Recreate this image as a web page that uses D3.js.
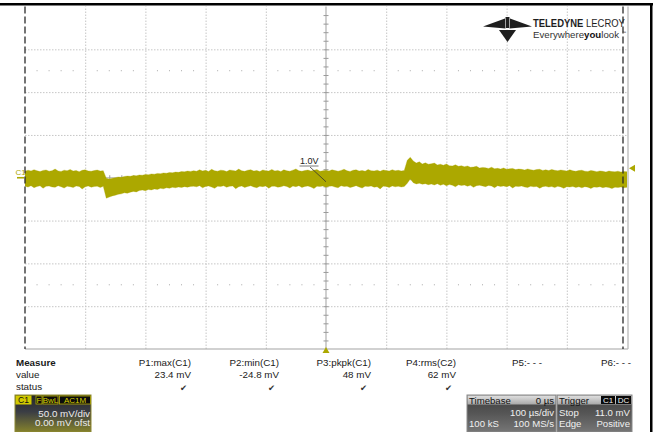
<!DOCTYPE html>
<html>
<head>
<meta charset="utf-8">
<script src="https://cdn.jsdelivr.net/npm/d3@7"></script>
<style>
  html, body { margin: 0; padding: 0; background: #fff; }
  svg { display: block; font-family: "Liberation Sans", Arial, sans-serif; }
</style>
</head>
<body>
<svg id="scope" width="654" height="432"></svg>
<script>
// one envelope point every 5 µs, from -500 µs to +500 µs
const timeStartUs = -500;
const timeStepUs = 5;

// upper edge of the C1 noise band (mV)
const upperMv = [
  7.5, 8.8, 7.9, 9.4, 8.1, 7.2, 8.6, 9.1, 7.7, 8.3, 10.2, 8.0, 7.4, 8.9, 8.2, 9.6, 7.8, 8.5, 7.1, 8.7,
  9.3, 8.0, 7.6, 8.4, 9.0, 7.9, 8.3,
  // dip at about -367 µs and the slow recovery
  -0.5, -1.5, -0.6, 0.1, 0.9, 0.5, 1.5, 2.0, 1.7, 2.6, 2.3, 3.2, 3.0, 3.9, 3.6, 4.5, 4.2, 5.1, 4.8, 5.6,
  5.3, 6.2, 5.8, 6.6, 6.3, 7.2, 6.9, 7.8, 7.4,
  // flat part
  8.3, 7.6, 9.2, 8.0, 8.7, 7.4, 9.8, 8.1, 7.7, 8.9, 8.4, 7.3, 9.0, 8.6, 7.9, 10.1, 8.2, 7.5, 8.8, 9.4,
  7.8, 8.5, 7.2, 9.1, 8.3, 7.9, 9.7, 8.0, 8.6, 7.4, 9.2, 8.1, 7.7, 8.9, 10.3, 8.2, 7.6, 8.4, 9.0, 7.8,
  8.7, 9.5, 7.5, 8.2, 8.9, 7.9, 9.3, 8.4, 7.7, 8.6, 10.0, 8.1, 7.4, 8.8, 9.2, 7.9, 8.5, 7.6, 9.6, 8.3,
  8.0, 8.9, 7.5, 9.1, 8.4, 7.8, 9.4, 8.2, 8.7, 7.9, 8.6,
  // step at about +138 µs and decay
  20.5, 23.8, 19.5, 17.2, 18.6, 16.1, 17.4, 15.9, 16.3, 17.1, 15.0, 15.8, 14.6, 16.2, 14.1, 13.8, 15.1, 13.4, 14.0, 12.9,
  13.8, 12.2, 12.6, 13.4, 11.3, 12.1, 11.7, 10.9, 12.3, 10.6, 11.0, 10.2, 11.4, 9.9, 10.4, 10.9, 9.5, 10.2, 9.8, 9.1,
  10.3, 9.4, 8.8, 9.6, 9.9, 8.6, 9.2, 8.4, 9.7, 8.7, 8.2, 9.0, 8.5, 7.9, 9.3, 8.1, 7.6, 8.4, 8.8, 7.7,
  7.4, 8.6, 7.9, 7.1, 8.0, 7.5, 6.8, 7.9, 7.2, 6.9, 7.7, 6.6, 7.3, 7.0
];

// lower edge of the C1 noise band (mV)
const lowerMv = [
  -9.8, -10.9, -9.2, -11.6, -10.1, -9.4, -12.3, -10.0, -9.6, -10.8, -11.2, -9.3, -10.5, -12.0, -9.9, -10.4, -11.5, -9.7, -10.2, -13.1,
  -10.6, -9.5, -11.0, -10.3, -9.8, -11.4, -10.0,
  -23.8, -22.6, -21.2, -20.3, -19.4, -18.8, -17.6, -18.1, -16.8, -16.0, -16.5, -15.0, -14.4, -15.1, -13.8, -14.2, -13.1, -13.6, -12.4, -12.9,
  -11.8, -12.2, -11.2, -11.7, -10.8, -11.3, -10.4, -11.0, -10.1,
  -9.9, -10.6, -9.2, -11.8, -10.1, -9.5, -10.9, -12.4, -9.8, -10.3, -9.4, -11.1, -10.0, -9.6, -12.9, -10.5, -9.7, -11.3, -10.2, -9.3,
  -10.8, -11.6, -9.9, -10.4, -9.5, -12.2, -10.0, -9.8, -11.0, -10.6, -9.4, -10.2, -11.9, -9.7, -10.5, -9.2, -11.4, -10.1, -9.6, -10.8,
  -12.6, -9.9, -10.3, -9.5, -11.2, -10.0, -9.7, -10.9, -11.7, -9.4, -10.2, -9.8, -11.5, -10.4, -9.3, -10.7, -12.1, -9.9, -10.3, -9.6,
  -11.0, -10.5, -13.0, -9.8, -10.1, -11.3, -9.5, -10.6, -9.9, -10.8, -10.2,
  -6.5, -1.5, -5.8, -7.2, -6.4, -7.6, -6.9, -8.1, -7.3, -8.4, -7.0, -8.8, -7.6, -9.2, -8.0, -8.7, -10.5, -8.3, -9.1, -8.6,
  -9.8, -8.9, -11.2, -9.3, -8.8, -9.6, -10.4, -9.0, -9.7, -11.6, -9.4, -10.1, -9.6, -10.5, -9.3, -12.0, -9.9, -10.3, -9.7, -10.8,
  -11.4, -9.8, -10.6, -10.1, -12.3, -10.4, -9.9, -10.9, -10.3, -11.5, -10.0, -10.7, -12.4, -10.5, -10.9, -10.2, -11.3, -10.6, -11.8, -10.4,
  -11.0, -12.5, -10.8, -11.2, -10.5, -11.6, -10.9, -11.4, -12.7, -11.0, -11.5, -10.8, -11.7, -11.2
];

const timeGridUs = [-400, -300, -200, -100, 100, 200, 300, 400];
const voltGridMv = [-150, -100, -50, 50, 100, 150];
const dotRowsMv = [125, -125];
const triggerLevelMv = 11.0;
const offsetMv = 0;

const measureHead = 'Measure';
const measureLabels = ['P1:max(C1)', 'P2:min(C1)', 'P3:pkpk(C1)', 'P4:rms(C2)', 'P5:- - -', 'P6:- - -'];
const measureValues = ['23.4 mV', '-24.8 mV', '48 mV', '62 mV', '', ''];
const measureOk = [true, true, true, true, false, false];

const traceColor = '#aca800';

const svg = d3.select('#scope');

// screen geometry (10 x 8 divisions)
const X0 = 25, X1 = 627, Y0 = 6.5, Y1 = 349;
const x = d3.scaleLinear().domain([-500, 500]).range([X0, X1]);
const y = d3.scaleLinear().domain([-200, 200]).range([Y1, Y0]);

svg.append('defs').append('clipPath').attr('id', 'screen')
  .append('rect').attr('x', X0).attr('y', Y0).attr('width', X1 - X0).attr('height', Y1 - Y0);

// dotted grid
svg.append('g')
  .attr('transform', `translate(0,${Y1})`)
  .call(d3.axisBottom(x).tickValues(timeGridUs).tickSize(-(Y1 - Y0)).tickFormat(''))
  .call(g => {
    g.select('.domain').remove();
    g.selectAll('line').attr('stroke', '#c6c6c6').attr('stroke-dasharray', '1.5,1.5');
  });

svg.append('g')
  .attr('transform', `translate(${X0},0)`)
  .call(d3.axisLeft(y).tickValues(voltGridMv).tickSize(-(X1 - X0)).tickFormat(''))
  .call(g => {
    g.select('.domain').remove();
    g.selectAll('line').attr('stroke', '#c6c6c6').attr('stroke-dasharray', '1.5,1.5');
  });

// dots at +-2.5 div
const dotTimes = d3.range(-480, 500, 20).filter(t => t % 100 !== 0);
dotRowsMv.forEach(mv => {
  svg.append('g').selectAll('rect')
    .data(dotTimes)
    .enter()
    .append('rect')
    .attr('x', d => x(d) - 0.5)
    .attr('y', y(mv) - 0.5)
    .attr('width', 1)
    .attr('height', 1)
    .attr('fill', '#a8a8a8');
});

// centre cross with minor ticks
const axisColor = '#b0b0b0';
svg.append('line')
  .attr('x1', x(0)).attr('x2', x(0)).attr('y1', Y0).attr('y2', Y1)
  .attr('stroke', axisColor).attr('stroke-width', 1.2);
svg.append('line')
  .attr('x1', X0).attr('x2', X1).attr('y1', y(0)).attr('y2', y(0))
  .attr('stroke', axisColor).attr('stroke-width', 1.2);

const vTicks = d3.range(-190, 200, 10).filter(v => v !== 0);
[d3.axisLeft(y), d3.axisRight(y)].forEach(ax => {
  svg.append('g')
    .attr('transform', `translate(${x(0)},0)`)
    .call(ax.tickValues(vTicks).tickSize(2.5).tickFormat(''))
    .call(g => {
      g.select('.domain').remove();
      g.selectAll('line').attr('stroke', '#9a9a9a');
    });
});
const hTicks = d3.range(-480, 500, 20).filter(t => t !== 0);
[d3.axisTop(x), d3.axisBottom(x)].forEach(ax => {
  svg.append('g')
    .attr('transform', `translate(0,${y(0)})`)
    .call(ax.tickValues(hTicks).tickSize(2.5).tickFormat(''))
    .call(g => {
      g.select('.domain').remove();
      g.selectAll('line').attr('stroke', '#9a9a9a');
    });
});

// trace envelope
const band = upperMv.map((u, i) => ({ t: timeStartUs + i * timeStepUs, hi: u, lo: lowerMv[i] }));
const area = d3.area()
  .x(d => x(d.t))
  .y0(d => y(d.lo))
  .y1(d => y(d.hi));

svg.append('path')
  .datum(band)
  .attr('clip-path', 'url(#screen)')
  .attr('d', area)
  .attr('fill', traceColor)
  .attr('stroke', traceColor)
  .attr('stroke-width', 0.3);

// screen frame
svg.append('line').attr('x1', X0).attr('x2', X1 + 1).attr('y1', Y1).attr('y2', Y1)
  .attr('stroke', '#a4a4a4').attr('stroke-width', 1.2);
svg.append('line').attr('x1', X1 + 1).attr('x2', X1 + 1).attr('y1', Y0).attr('y2', Y1)
  .attr('stroke', '#b4b4b4').attr('stroke-width', 1.2);
svg.append('line').attr('x1', X0).attr('x2', X0).attr('y1', Y0).attr('y2', Y1)
  .attr('stroke', '#2a2a2a').attr('stroke-width', 1.3).attr('stroke-dasharray', '7,3');
svg.append('line').attr('x1', X1 - 4).attr('x2', X1 - 4).attr('y1', Y0).attr('y2', Y1)
  .attr('stroke', '#2a2a2a').attr('stroke-width', 1.3).attr('stroke-dasharray', '7,3');

// window border
svg.append('rect').attr('x', 0).attr('y', 3).attr('width', 653).attr('height', 2.5).attr('fill', '#000');
svg.append('rect').attr('x', 650).attr('y', 3).attr('width', 2.5).attr('height', 429).attr('fill', '#000');

// offset label with pointer
svg.append('text').attr('x', 300).attr('y', 164).attr('font-size', 9).attr('fill', '#222').text('1.0V');
svg.append('line').attr('x1', 299.5).attr('x2', 318.5).attr('y1', 166).attr('y2', 166)
  .attr('stroke', '#7a7a7a').attr('stroke-width', 1);
svg.append('line').attr('x1', 310).attr('x2', x(0)).attr('y1', 167).attr('y2', y(offsetMv) + 4)
  .attr('stroke', '#333').attr('stroke-width', 0.8);

// channel marker
svg.append('text').attr('x', 15.5).attr('y', 175).attr('font-size', 8).attr('fill', traceColor).text('C1');
svg.append('line').attr('x1', 17).attr('x2', 24).attr('y1', y(offsetMv)).attr('y2', y(offsetMv))
  .attr('stroke', traceColor).attr('stroke-width', 1.6);

// trigger level and trigger position markers
const ty = y(triggerLevelMv);
svg.append('path').attr('d', `M629,${ty} L635,${ty - 3.5} L635,${ty + 3.5} Z`).attr('fill', traceColor);
svg.append('path').attr('d', `M${x(0)},${Y1 - 2} L${x(0) + 3.5},${Y1 + 4} L${x(0) - 3.5},${Y1 + 4} Z`).attr('fill', traceColor);

// logo
const logo = svg.append('g').attr('fill', '#1e1e1e');
logo.append('path').attr('d', 'M483,26.5 L505,18.5 L505.5,28.5 Z');
logo.append('path').attr('d', 'M532,26.5 L510,18.5 L509.5,28.5 Z');
logo.append('path').attr('d', 'M499,30 L516,30 L507.5,42 Z');
logo.append('path').attr('d', 'M505.5,17 L509.5,17 L509,28 L506,28 Z');
const brand = logo.append('g').attr('transform', 'translate(533,27) scale(0.86,1)')
  .append('text').attr('font-size', 11);
brand.append('tspan').attr('font-weight', 'bold').text('TELEDYNE');
brand.append('tspan').text(' LECROY');
const tag = logo.append('g').attr('transform', 'translate(533,38.2) scale(1.02,1)')
  .append('text').attr('font-size', 9.5).attr('fill', '#333');
tag.append('tspan').text('Everywhere');
tag.append('tspan').attr('font-weight', 'bold').attr('fill', '#111').text('you');
tag.append('tspan').text('look');
logo.append('text').attr('x', 622).attr('y', 33.8).attr('font-size', 4).attr('fill', '#333').text('™');

// measurement table
const colRight = [191, 279, 371, 456, 542, 631];
const table = svg.append('g').attr('font-size', 9.8).attr('fill', '#1a1a1a');
table.append('text').attr('x', 16).attr('y', 366).attr('font-weight', 'bold').text(measureHead);
table.append('text').attr('x', 16).attr('y', 378).text('value');
table.append('text').attr('x', 16).attr('y', 390).text('status');
table.selectAll('.lbl').data(measureLabels).enter().append('text')
  .attr('x', (d, i) => colRight[i]).attr('y', 366).attr('text-anchor', 'end').text(d => d);
table.selectAll('.val').data(measureValues).enter().append('text')
  .attr('x', (d, i) => colRight[i]).attr('y', 378).attr('text-anchor', 'end').text(d => d);
table.selectAll('.ok').data(measureOk).enter().append('text')
  .attr('x', (d, i) => colRight[i] - 4).attr('y', 391).attr('text-anchor', 'end')
  .attr('font-family', 'DejaVu Sans').attr('font-size', 8.5).attr('fill', '#333')
  .text(d => d ? '✔' : '');

// descriptor boxes
const defs = svg.select('defs');
function grad(id, stops) {
  const g = defs.append('linearGradient').attr('id', id).attr('x1', 0).attr('y1', 0).attr('x2', 0).attr('y2', 1);
  stops.forEach(s => g.append('stop').attr('offset', s[0]).attr('stop-color', s[1]));
}
grad('chGrad', [[0, '#262626'], [0.45, '#3a3d44'], [1, '#85822c']]);
grad('tbGrad', [[0, '#3e3e3e'], [0.5, '#565656'], [1, '#767676']]);
grad('hdGrad', [[0, '#e0e0e0'], [1, '#a8a8a8']]);

// C1 descriptor
const ch = svg.append('g');
ch.append('rect').attr('x', 15).attr('y', 395).attr('width', 76).attr('height', 37)
  .attr('fill', 'url(#chGrad)').attr('stroke', '#8c8832').attr('stroke-width', 1);
ch.append('rect').attr('x', 15.5).attr('y', 395.5).attr('width', 16).attr('height', 9).attr('fill', '#d2ca00');
ch.append('text').attr('x', 23.5).attr('y', 403).attr('text-anchor', 'middle').attr('font-size', 8.5).attr('fill', '#111').text('C1');
[['F', 36, 6], ['BwL', 43, 15], ['AC1M', 59.5, 31]].forEach(([t, bx, bw]) => {
  ch.append('rect').attr('x', bx).attr('y', 396).attr('width', bw).attr('height', 8)
    .attr('fill', '#0c0c0c').attr('stroke', '#b8b000').attr('stroke-width', 0.8);
  ch.append('text').attr('x', bx + bw / 2).attr('y', 403).attr('text-anchor', 'middle')
    .attr('font-size', 8).attr('fill', '#d8d000').text(t);
});
ch.append('text').attr('x', 90).attr('y', 416.5).attr('text-anchor', 'end').attr('font-size', 9.8).attr('fill', '#ececec').text('50.0 mV/div');
ch.append('text').attr('x', 90).attr('y', 426).attr('text-anchor', 'end').attr('font-size', 9.8).attr('fill', '#ececec').text('0.00 mV ofst');

// timebase and trigger descriptors
function descriptor(bx, bw, title, rows) {
  const g = svg.append('g').attr('font-size', 9.6);
  g.append('rect').attr('x', bx).attr('y', 395).attr('width', bw).attr('height', 37)
    .attr('fill', 'url(#tbGrad)').attr('stroke', '#8a8a8a').attr('stroke-width', 1);
  g.append('rect').attr('x', bx + 0.5).attr('y', 395.5).attr('width', bw - 1).attr('height', 9).attr('fill', 'url(#hdGrad)');
  g.append('text').attr('x', bx + 2).attr('y', 403.5).attr('fill', '#111').text(title);
  rows.forEach((r, i) => {
    const ry = 415.5 + i * 11;
    if (r[0]) g.append('text').attr('x', bx + 2).attr('y', ry).attr('fill', '#f0f0f0').text(r[0]);
    g.append('text').attr('x', bx + bw - 2).attr('y', ry).attr('text-anchor', 'end').attr('fill', '#f0f0f0').text(r[1]);
  });
  return g;
}
const tb = descriptor(467, 89, 'Timebase', [['', '100 µs/div'], ['100 kS', '100 MS/s']]);
tb.append('text').attr('x', 554).attr('y', 403.5).attr('text-anchor', 'end').attr('fill', '#111').text('0 µs');

const tr = descriptor(557, 75, 'Trigger', [['Stop', '11.0 mV'], ['Edge', 'Positive']]);
[['C1', 601, 14], ['DC', 616, 15]].forEach(([t, bx, bw]) => {
  tr.append('rect').attr('x', bx).attr('y', 396).attr('width', bw).attr('height', 8).attr('fill', '#0a0a0a');
  tr.append('text').attr('x', bx + bw / 2).attr('y', 403).attr('text-anchor', 'middle')
    .attr('font-size', 8).attr('fill', '#f0f0f0').text(t);
});
</script>
</body>
</html>
